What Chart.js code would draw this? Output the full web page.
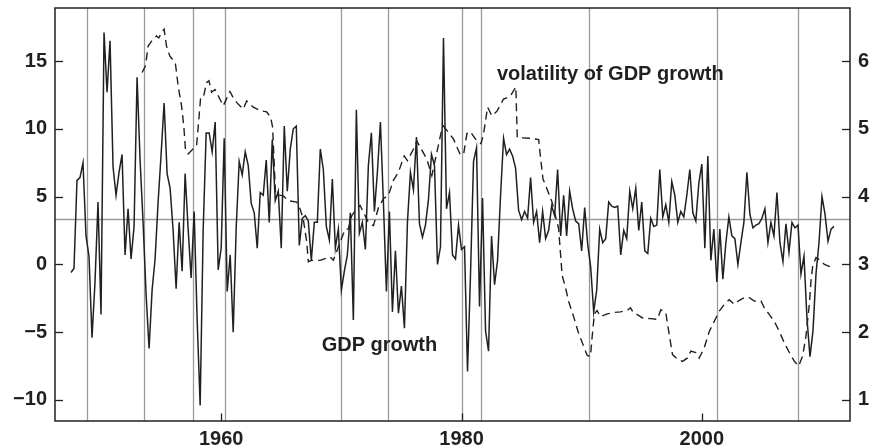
<!DOCTYPE html>
<html><head><meta charset="utf-8">
<script src="https://cdn.jsdelivr.net/npm/chart.js@4.4.0/dist/chart.umd.min.js"></script>
<style>html,body{margin:0;padding:0;background:#fff;}#wrap{width:872px;height:448px;}</style>
</head><body><div id="wrap"><canvas id="c" width="872" height="448"></canvas></div>
<script>
// ---- data ----
const gdpStart = [1947, 2]; // first observation: year, quarter
const gdpGrowth = [
  -0.6, -0.3, 6.2,
  6.4, 7.5, 2.1, 0.6,
  -5.4, -1.3, 4.6, -3.7,
  17.1, 12.7, 16.5, 7.2,
  5.1, 6.8, 8.1, 0.7,
  4.1, 0.4, 2.8, 13.8,
  7.7, 3.1, -2.2, -6.2,
  -1.9, 0.4, 4.6, 8.1,
  11.9, 6.7, 5.6, 2.5,
  -1.8, 3.1, -0.5, 6.7,
  2.6, -1.0, 3.9, -4.1,
  -10.4, 2.5, 9.7, 9.7,
  8.3, 10.5, -0.4, 1.2,
  9.3, -2.0, 0.7, -5.0,
  2.7, 7.6, 6.6, 8.3,
  7.3, 4.5, 3.8, 1.2,
  5.3, 5.1, 7.7, 3.1,
  9.2, 4.7, 5.4, 1.2,
  10.2, 5.4, 8.5, 10.0,
  10.2, 1.4, 3.4, 3.6,
  3.2, 0.3, 3.1, 3.1,
  8.5, 7.0, 2.8, 1.8,
  6.3, 1.2, 2.6, -1.9,
  -0.5, 0.7, 3.8, -4.1,
  11.4, 2.3, 3.1, 1.1,
  7.3, 9.7, 3.9, 6.8,
  10.5, 4.6, -2.0, 3.9,
  -3.5, 1.0, -3.6, -1.6,
  -4.7, 3.1, 6.8, 5.5,
  9.4, 3.0, 2.0, 2.9,
  4.8, 8.1, 7.3, 0.0,
  1.3, 16.7, 4.1, 5.3,
  0.7, 0.4, 2.9, 1.1,
  1.3, -7.9, -0.7, 7.6,
  8.6, -3.1, 4.9, -4.9,
  -6.4, 2.1, -1.5, 0.3,
  5.1, 9.3, 8.1, 8.5,
  8.0, 7.1, 4.0, 3.3,
  3.9, 3.4, 6.4, 3.1,
  3.9, 1.6, 3.9, 1.9,
  2.5, 4.3, 3.6, 7.0,
  2.1, 5.1, 2.1, 5.4,
  4.1, 3.2, 3.0, 1.0,
  4.2, 1.5, -0.2, -3.5,
  -1.9, 2.6, 1.6, 1.9,
  4.6, 4.3, 4.2, 4.3,
  0.7, 2.5, 1.9, 5.4,
  4.1, 5.6, 2.5, 4.6,
  1.0, 0.8, 3.4, 2.8,
  2.9, 7.0, 3.5, 4.4,
  3.1, 6.1, 5.1, 3.1,
  3.9, 3.5, 5.1, 7.0,
  3.8, 3.2, 6.0, 7.4,
  1.2, 8.0, 0.3, 2.6,
  -1.3, 2.6, -1.1, 1.6,
  3.5, 2.1, 1.9, 0.0,
  1.6, 3.1, 6.8, 3.7,
  2.7, 2.9, 3.0, 3.4,
  4.1, 1.6, 3.1, 2.1,
  5.3, 1.6, 0.2, 3.0,
  0.9, 3.1, 2.7, 2.9,
  -0.7, 0.6, -4.0, -6.8,
  -4.9, -0.7, 1.6, 5.0,
  3.7, 1.7, 2.6, 2.8
];
const volYears = [
  1953.42,1953.70,1953.92,1954.20,1954.62,1954.81,1955.03,1955.25,1955.45,1955.73,1955.92,
  1956.20,1956.42,1956.70,1956.89,1957.03,1957.25,1957.53,1957.95,1958.14,1958.28,1958.50,
  1958.78,1958.98,1959.20,1959.48,1959.75,1960.17,1960.73,1961.00,1961.28,1961.83,1962.12,
  1962.67,1963.23,1963.78,1964.12,1964.28,1964.52,1964.62,1965.17,1965.58,1966.28,1966.56,
  1966.83,1967.12,1967.25,1967.53,1968.23,1969.06,1969.33,1970.31,1970.58,1970.87,1971.28,
  1971.56,1972.25,1972.67,1973.08,1973.50,1973.92,1974.33,1974.75,1975.23,1975.50,1976.14,
  1976.28,1977.12,1977.53,1978.37,1978.50,1979.33,1979.89,1980.17,1980.45,1980.73,1981.28,
  1981.62,1981.83,1982.17,1982.53,1982.95,1983.50,1984.06,1984.52,1984.64,1985.73,1986.42,
  1986.56,1986.78,1987.12,1987.53,1987.67,1988.08,1988.23,1988.37,1988.64,1988.92,1989.33,
  1989.75,1990.17,1990.45,1990.73,1990.87,1991.06,1991.28,1991.56,1992.12,1992.67,1993.23,
  1993.78,1994.06,1994.33,1994.64,1995.06,1995.73,1996.31,1996.58,1997.00,1997.28,1997.56,
  1997.98,1998.39,1998.81,1999.08,1999.50,1999.78,2000.20,2000.62,2000.89,2001.17,2001.45,
  2001.87,2002.28,2002.70,2003.12,2003.53,2003.95,2004.37,2004.92,2005.20,2005.62,2006.03,
  2006.45,2006.87,2007.28,2007.70,2008.06,2008.39,2008.67,2008.95,2009.08,2009.23,2009.50,
  2009.78,2010.20,2010.75,2010.98
];
const volValues = [
  5.83,5.93,6.22,6.29,6.37,6.34,6.42,6.47,6.22,6.07,6.03,
  5.95,5.63,5.34,5.04,4.68,4.63,4.68,4.75,5.14,5.44,5.45,
  5.68,5.71,5.54,5.58,5.49,5.34,5.55,5.46,5.39,5.29,5.41,
  5.32,5.27,5.25,5.17,5.02,4.05,4.03,4.01,3.94,3.92,3.82,
  3.67,3.33,3.04,3.06,3.06,3.11,3.06,3.52,3.52,3.72,3.82,
  3.87,3.62,3.57,3.83,3.97,4.02,4.24,4.36,4.60,4.53,4.75,
  4.82,4.55,4.31,5.00,5.04,4.85,4.62,4.62,4.93,4.96,4.82,
  4.78,4.92,5.32,5.19,5.26,5.44,5.48,5.62,4.87,4.86,4.84,
  4.60,4.26,4.11,3.92,3.82,3.53,3.18,2.84,2.67,2.45,2.23,
  1.98,1.79,1.66,1.64,1.93,2.27,2.32,2.23,2.27,2.29,2.30,
  2.32,2.36,2.28,2.26,2.21,2.20,2.19,2.33,2.29,1.97,1.67,
  1.60,1.57,1.62,1.72,1.70,1.62,1.77,2.01,2.11,2.21,2.31,
  2.41,2.48,2.41,2.47,2.51,2.51,2.46,2.46,2.36,2.26,2.16,
  2.01,1.84,1.70,1.57,1.50,1.65,1.95,2.42,2.75,2.98,3.10,
  3.07,3.00,2.96,2.95
];
const recessionPeaks = [1948.87,1953.56,1957.64,1960.33,1969.98,1973.92,1980.08,1981.60,1990.58,2001.27,2008.04];
const meanGrowth = 3.35;
const seriesLabels = ['GDP growth', 'volatility of GDP growth'];

// ---- presentation ----
const INK = '#231f20';
const GRAY = '#9a9a9a';
const FONT = "'Liberation Sans', Arial, Helvetica, sans-serif";
const labelAnchors = [ // text, x (year), y (left-axis value) of text baseline-left
  {text: seriesLabels[1], x: 1982.95, y: 13.63},
  {text: seriesLabels[0], x: 1968.36, y: -6.38}
];
const yMin = -11.55, yMax = 18.91;

const gdpPoints = gdpGrowth.map((v, i) => {
  const idx = (gdpStart[1] - 1) + i;
  return {x: gdpStart[0] + Math.floor(idx / 4) + ((idx % 4) + 1) / 4, y: v};
});
const volPoints = volYears.map((t, i) => ({x: t, y: volValues[i]}));

function fix(w, h) {
  return function (s) {
    if (w !== null) s.width = w;
    if (h !== null) s.height = h;
    s.paddingTop = 0; s.paddingBottom = 0; s.paddingLeft = 0; s.paddingRight = 0;
  };
}
const minus = v => (v < 0 ? '\u2212' + Math.abs(v) : String(v));

const decor = {
  id: 'decor',
  beforeDatasetsDraw(chart) {
    const {ctx, chartArea: a, scales} = chart;
    const x = scales.x, y = scales.y;
    ctx.save();
    ctx.strokeStyle = GRAY; ctx.lineWidth = 1.3;
    recessionPeaks.forEach(t => {
      const px = Math.round(x.getPixelForValue(t)) + 0.5;
      ctx.beginPath(); ctx.moveTo(px, a.top); ctx.lineTo(px, a.bottom); ctx.stroke();
    });
    const py = Math.round(y.getPixelForValue(meanGrowth)) + 0.5;
    ctx.beginPath(); ctx.moveTo(a.left, py); ctx.lineTo(a.right, py); ctx.stroke();
    ctx.restore();
  },
  afterDraw(chart) {
    const {ctx, chartArea: a, scales} = chart;
    const x = scales.x, y = scales.y, y2 = scales.y2;
    ctx.save();
    ctx.strokeStyle = INK; ctx.lineWidth = 1.3;
    // ticks pointing inward
    y.ticks.forEach(t => {
      const p = Math.round(y.getPixelForValue(t.value)) + 0.5;
      const len = (t.value % 5 === 0) ? 8 : 4.5;
      ctx.beginPath(); ctx.moveTo(a.left, p); ctx.lineTo(a.left + len, p); ctx.stroke();
    });
    y2.ticks.forEach(t => {
      const p = Math.round(y2.getPixelForValue(t.value)) + 0.5;
      ctx.beginPath(); ctx.moveTo(a.right, p); ctx.lineTo(a.right - 8, p); ctx.stroke();
    });
    x.ticks.forEach(t => {
      const p = Math.round(x.getPixelForValue(t.value)) + 0.5;
      ctx.beginPath(); ctx.moveTo(p, a.bottom); ctx.lineTo(p, a.bottom - 7.5); ctx.stroke();
    });
    // frame
    ctx.lineWidth = 1.5;
    ctx.strokeRect(a.left, a.top, a.right - a.left, a.bottom - a.top);
    // series labels
    ctx.fillStyle = INK;
    ctx.font = 'bold 20px ' + FONT;
    ctx.textAlign = 'left'; ctx.textBaseline = 'alphabetic';
    labelAnchors.forEach(l => ctx.fillText(l.text, x.getPixelForValue(l.x), y.getPixelForValue(l.y)));
    ctx.restore();
  }
};

const tickFont = {family: FONT, size: 20, weight: 'bold'};
const noGrid = {display: false, drawTicks: false, tickLength: 0};

new Chart(document.getElementById('c'), {
  type: 'line',
  data: {
    datasets: [
      {label: seriesLabels[0], data: gdpPoints, yAxisID: 'y', borderColor: INK, borderWidth: 1.5,
       pointRadius: 0, tension: 0, fill: false},
      {label: seriesLabels[1], data: volPoints, yAxisID: 'y2', borderColor: INK, borderWidth: 1.4,
       borderDash: [8, 5], pointRadius: 0, tension: 0, fill: false}
    ]
  },
  options: {
    responsive: false, animation: false, devicePixelRatio: 1,
    layout: {padding: {top: 8, left: 0, right: 0, bottom: 0}},
    plugins: {legend: {display: false}, tooltip: {enabled: false}},
    scales: {
      x: {
        type: 'linear', min: 1946.17, max: 2012.33,
        grid: noGrid, border: {display: false},
        ticks: {stepSize: 5, includeBounds: false, autoSkip: false, maxRotation: 0, padding: 6,
                font: tickFont, color: INK,
                callback: v => (v % 20 === 0 ? String(v) : null)},
        afterFit: fix(null, 27)
      },
      y: {
        type: 'linear', position: 'left', min: yMin, max: yMax,
        grid: noGrid, border: {display: false},
        ticks: {stepSize: 1, includeBounds: false, autoSkip: false, padding: 8,
                font: tickFont, color: INK,
                callback: v => (v % 5 === 0 ? minus(v) : null)},
        afterFit: fix(55, null)
      },
      y2: {
        type: 'linear', position: 'right', min: 3 + yMin / 5, max: 3 + yMax / 5,
        grid: noGrid, border: {display: false},
        ticks: {stepSize: 1, includeBounds: false, autoSkip: false, padding: 8,
                font: tickFont, color: INK,
                callback: v => String(v)},
        afterFit: fix(22, null)
      }
    }
  },
  plugins: [decor]
});
</script>
</body></html>
